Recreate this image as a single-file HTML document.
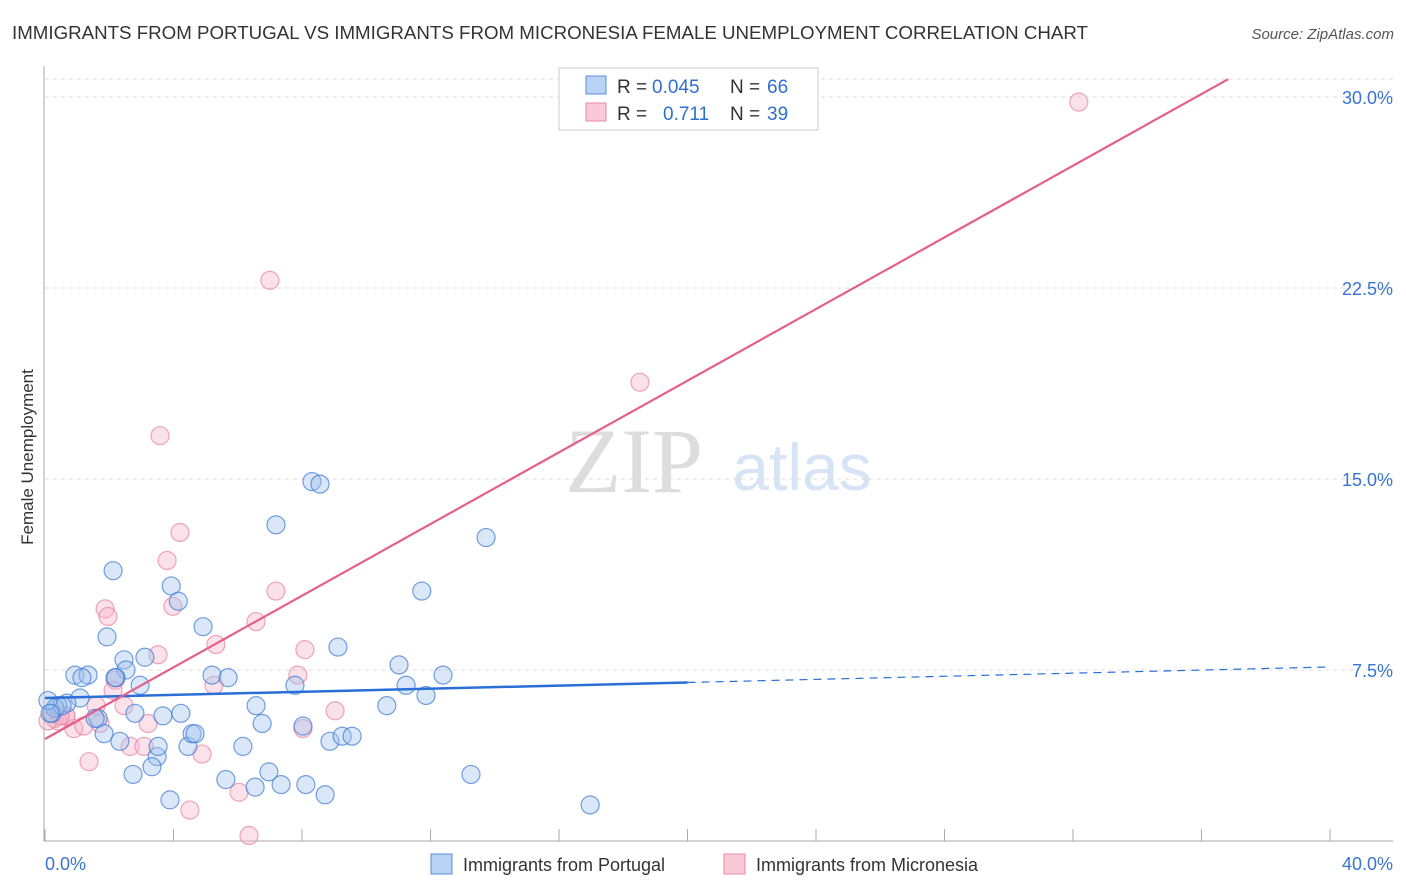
<!DOCTYPE html>
<html><head><meta charset="utf-8"><style>
body{margin:0;background:#fff;font-family:"Liberation Sans",sans-serif;}
svg{display:block}
</style></head><body>
<svg id="chart" width="1406" height="892">
<text x="12" y="39" font-size="18.6" fill="#333" textLength="1076" lengthAdjust="spacingAndGlyphs">IMMIGRANTS FROM PORTUGAL VS IMMIGRANTS FROM MICRONESIA FEMALE UNEMPLOYMENT CORRELATION CHART</text>
<text x="1394" y="39" font-size="15" fill="#555" font-style="italic" text-anchor="end">Source: ZipAtlas.com</text>
<text x="634" y="492" font-size="92" fill="#ddd" font-family="Liberation Serif,serif" text-anchor="middle">ZIP</text>
<text x="802" y="490" font-size="66" fill="#d6e4f5" text-anchor="middle">atlas</text>
<text x="33" y="457" font-size="17" fill="#333" text-anchor="middle" transform="rotate(-90 33 457)">Female Unemployment</text>
<g id="grid"></g><g id="pts"></g><g id="lines"></g>
<g>
<rect x="559" y="68" width="259" height="62" fill="#fff" stroke="#ccc"/>
<rect x="586" y="76" width="20" height="18" fill="#b9d3f5" stroke="#5b8fd9"/>
<rect x="586" y="103" width="20" height="18" fill="#f9c9d7" stroke="#e58aa6"/>
<text x="617" y="93" font-size="19" fill="#333">R =</text>
<text x="652" y="93" font-size="19" fill="#2f6fcf">0.045</text>
<text x="730" y="93" font-size="19" fill="#333">N =</text>
<text x="767" y="93" font-size="19" fill="#2f6fcf">66</text>
<text x="617" y="120" font-size="19" fill="#333">R =</text>
<text x="663" y="120" font-size="19" fill="#2f6fcf">0.711</text>
<text x="730" y="120" font-size="19" fill="#333">N =</text>
<text x="767" y="120" font-size="19" fill="#2f6fcf">39</text>
</g>
<g>
<rect x="431" y="854" width="21" height="20" fill="#b9d3f5" stroke="#5b8fd9"/>
<text x="463" y="871" font-size="18" fill="#333">Immigrants from Portugal</text>
<rect x="724" y="854" width="21" height="20" fill="#f9c9d7" stroke="#e58aa6"/>
<text x="756" y="871" font-size="18" fill="#333">Immigrants from Micronesia</text>
</g>
</svg>
<script>
const yTicks=[7.5,15,22.5,30];
const yTickLabels=["7.5%","15.0%","22.5%","30.0%"];
const xTickLabels=["0.0%","40.0%"];
const portugalX=[2.12,3.93,4.15,1.93,4.92,2.46,3.11,0.93,1.34,1.15,2.52,2.21,2.96,1.09,0.68,0.40,0.22,0.31,0.53,1.65,1.56,2.80,3.67,4.23,5.20,5.70,6.57,6.76,6.16,4.45,3.49,3.33,2.74,1.84,2.33,4.58,4.67,3.89,5.63,6.54,6.97,7.35,7.78,8.12,8.03,8.72,8.87,9.25,9.56,9.12,8.31,8.56,7.19,13.73,11.73,11.02,12.39,11.24,11.86,10.64,13.26,16.97,0.09,0.16,2.18,3.52];
const portugalY=[11.4,10.8,10.2,8.8,9.2,7.9,8.0,7.3,7.3,7.2,7.5,7.2,6.9,6.4,6.2,6.1,5.8,6.0,6.1,5.6,5.6,5.8,5.7,5.8,7.3,7.2,6.1,5.4,4.5,4.5,4.1,3.7,3.4,5.0,4.7,5.0,5.0,2.4,3.2,2.9,3.5,3.0,6.9,3.0,5.3,2.6,4.7,4.9,4.9,8.4,14.9,14.8,13.2,12.7,10.6,7.7,7.3,6.9,6.5,6.1,3.4,2.2,6.3,5.8,7.2,4.5];
const micronesiaX=[32.18,7.00,18.52,3.58,4.20,3.80,1.87,1.96,3.98,7.19,6.57,3.52,5.32,8.09,7.87,5.26,2.18,2.46,1.59,9.03,8.03,3.21,0.65,0.90,0.40,1.21,1.71,0.28,0.09,2.65,3.08,4.89,1.37,4.51,6.04,6.35,0.65,0.47,2.12];
const micronesiaY=[29.8,22.8,18.8,16.7,12.9,11.8,9.9,9.6,10.0,10.6,9.4,8.1,8.5,8.3,7.3,6.9,7.1,6.1,6.1,5.9,5.2,5.4,5.7,5.2,5.5,5.3,5.4,5.6,5.5,4.5,4.5,4.2,3.9,2.0,2.7,1.0,5.7,5.7,6.7];
const portugalLine=[6.4,7.62];
const micronesiaLine=[4.79,30.7];
const NS="http://www.w3.org/2000/svg";
const X=v=>45+v/40*1285, Y=v=>861-v/7.5*191;
function mk(t,a,p){const e=document.createElementNS(NS,t);for(const k in a)e.setAttribute(k,a[k]);p.appendChild(e);return e;}
const g=document.getElementById('grid');
yTicks.forEach((t,i)=>{
 const l=mk('line',{x1:45,x2:1393,y1:Y(t),y2:Y(t),stroke:'#ddd','stroke-dasharray':'4 4'},g);
 
 
 const tx=mk('text',{x:1393,y:Y(t)+7,'font-size':18,fill:'#3a74d0','text-anchor':'end'},g);
 tx.textContent=yTickLabels[i];
 
 
});
mk('line',{x1:45,x2:1393,y1:79,y2:79,stroke:'#ddd','stroke-dasharray':'4 4'},g);
const ax=mk('line',{x1:44,x2:44,y1:66,y2:841,stroke:'#aaa'},g);


const bx=mk('line',{x1:44,x2:1393,y1:841,y2:841,stroke:'#aaa'},g);


for(let i=0;i<=10;i++){const t=mk('line',{x1:X(i*4),x2:X(i*4),y1:829,y2:841,stroke:'#aaa'},g);
 
 }
[[0,'start',45],[1,'end',1393]].forEach(([i,a,x])=>{const t=mk('text',{x:x,y:870,'font-size':18,fill:'#3a74d0','text-anchor':a},g);t.textContent=xTickLabels[i];
 
 });
const p=document.getElementById('pts');
micronesiaX.forEach((v,i)=>{const c=mk('circle',{cx:X(v),cy:Y(micronesiaY[i]),r:9,fill:'rgba(246,180,200,0.4)',stroke:'rgba(232,130,160,0.7)','stroke-width':1.2},p);
 
 });
portugalX.forEach((v,i)=>{const c=mk('circle',{cx:X(v),cy:Y(portugalY[i]),r:9,fill:'rgba(160,196,238,0.4)',stroke:'rgba(60,120,210,0.7)','stroke-width':1.2},p);
 
 });
const L=document.getElementById('lines');
const py=x=>portugalLine[0]+(portugalLine[1]-portugalLine[0])*x/40;
const b1=mk('line',{x1:X(0),y1:Y(py(0)),x2:X(20),y2:Y(py(20)),stroke:'#2a6fd6','stroke-width':2.5},L);


const b2=mk('line',{x1:X(20),y1:Y(py(20)),x2:X(40),y2:Y(py(40)),stroke:'#2a6fd6','stroke-width':1.2,'stroke-dasharray':'8 6'},L);


const my=x=>micronesiaLine[0]+(micronesiaLine[1]-micronesiaLine[0])*x/36.83;
const xe=(30.7-micronesiaLine[0])/(micronesiaLine[1]-micronesiaLine[0])*36.83;
const m1=mk('line',{x1:X(0),y1:Y(my(0)),x2:X(xe),y2:Y(my(xe)),stroke:'#e4608a','stroke-width':2.2},L);


</script>
</body></html>
